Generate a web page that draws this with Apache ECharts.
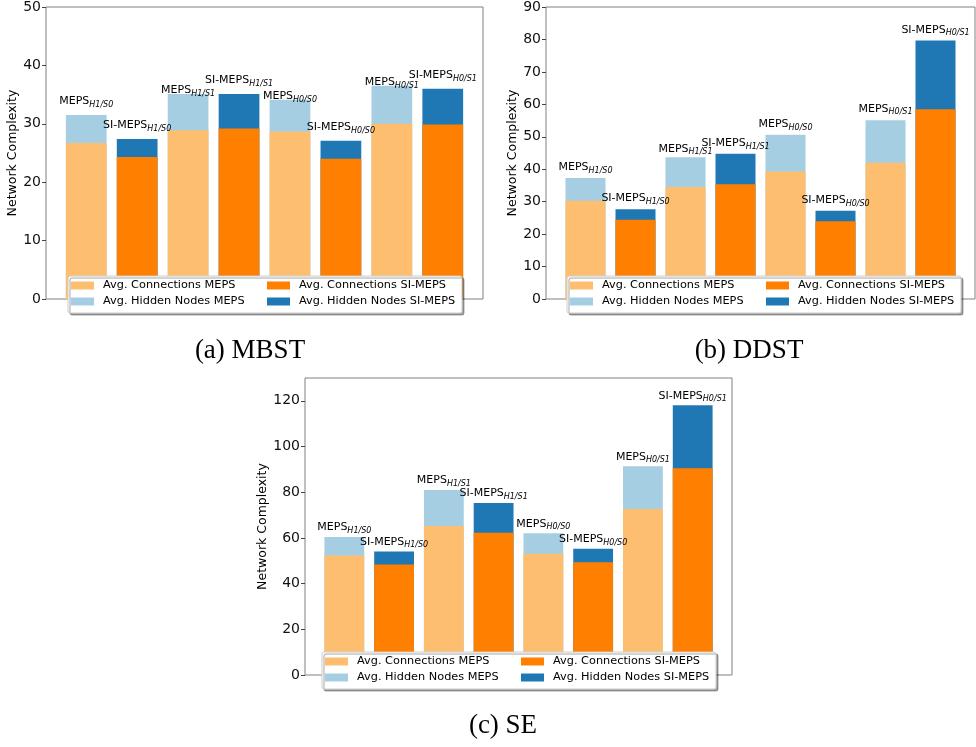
<!DOCTYPE html>
<html><head><meta charset="utf-8">
<script src="https://cdn.jsdelivr.net/npm/echarts@6/dist/echarts.min.js"></script>
<style>html,body{margin:0;padding:0;background:#fff}#c{width:976px;height:747px}</style>
</head><body><div id="c"></div>
<script>
// ---------- data ----------
const configLabels = ['H1/S0', 'H1/S1', 'H0/S0', 'H0/S1'];
const methodNames = ['MEPS', 'SI-MEPS'];
const legendNames = ['Avg. Connections MEPS', 'Avg. Connections SI-MEPS', 'Avg. Hidden Nodes MEPS', 'Avg. Hidden Nodes SI-MEPS'];
const captions = ['(a) MBST', '(b) DDST', '(c) SE'];
const yAxisTitle = 'Network Complexity';

const yTickStepMBST = 10, yMaxMBST = 50;
const yTickStepDDST = 10, yMaxDDST = 90;
const yTickStepSE = 20, yMaxSE = 130;

const mbstConnMEPS = [26.7, 28.9, 28.7, 30.0];
const mbstHidMEPS  = [4.8, 6.2, 5.4, 6.5];
const mbstConnSI   = [24.3, 29.2, 24.0, 29.9];
const mbstHidSI    = [3.1, 5.9, 3.1, 6.1];

const ddstConnMEPS = [30.3, 34.5, 39.3, 42.0];
const ddstHidMEPS  = [7.0, 9.2, 11.3, 13.1];
const ddstConnSI   = [24.4, 35.4, 24.0, 58.5];
const ddstHidSI    = [3.3, 9.4, 3.2, 21.2];

const seConnMEPS = [52.3, 65.2, 53.1, 72.7];
const seHidMEPS  = [8.1, 15.8, 8.9, 18.7];
const seConnSI   = [48.4, 62.3, 49.4, 90.5];
const seHidSI    = [5.7, 13.0, 5.9, 27.6];

// ---------- styling / layout ----------
const colors = { connMEPS: '#fdbf6f', connSI: '#ff7f00', hidMEPS: '#a6cee3', hidSI: '#1f78b4' };
const panels = [
  { step: yTickStepMBST, yMax: yMaxMBST, conn: [mbstConnMEPS, mbstConnSI], hid: [mbstHidMEPS, mbstHidSI],
    grid: { left: 46, top: 7, width: 437, height: 292 }, nameGap: 25,
    labelDist: [[6, -4, -4, -4], [6, 6, 6, 6]],
    legend: { left: 68, top: 276 }, caption: { x: 250, y: 337 } },
  { step: yTickStepDDST, yMax: yMaxDDST, conn: [ddstConnMEPS, ddstConnSI], hid: [ddstHidMEPS, ddstHidSI],
    grid: { left: 546, top: 7, width: 429, height: 292 }, nameGap: 25,
    labelDist: [[3, 1, 3, 4], [3, 3, 3, 3]],
    legend: { left: 567, top: 276 }, caption: { x: 749, y: 337 } },
  { step: yTickStepSE, yMax: yMaxSE, conn: [seConnMEPS, seConnSI], hid: [seHidMEPS, seHidSI],
    grid: { left: 305, top: 378, width: 427, height: 297 }, nameGap: 33,
    labelDist: [[2, 2, 2, 2], [2, 2, 2, 2]],
    legend: { left: 322, top: 652 }, caption: { x: 503, y: 712 } }
];
const X_MIN = -0.79, X_MAX = 7.79;
const FONT = 'DejaVu Sans';
const spine = '#808080';

const option = {
  backgroundColor: '#fff',
  animation: false,
  grid: [], xAxis: [], yAxis: [], series: [], legend: [], title: []
};

panels.forEach((p, gi) => {
  option.grid.push(Object.assign({ show: true, borderColor: spine, borderWidth: 1, backgroundColor: 'transparent', containLabel: false }, p.grid));
  option.xAxis.push({ type: 'value', gridIndex: gi, min: X_MIN, max: X_MAX, show: false, splitLine: { show: false }, axisLine: { onZero: false } });
  option.yAxis.push({
    type: 'value', gridIndex: gi, min: 0, max: p.yMax, interval: p.step, position: 'left',
    name: yAxisTitle, nameLocation: 'middle', nameGap: p.nameGap, nameRotate: 90,
    nameTextStyle: { fontFamily: FONT, fontSize: 12.5, color: '#000' },
    axisLine: { show: false, onZero: false },
    axisTick: { show: true, length: 4, lineStyle: { color: '#444' } },
    axisLabel: { fontFamily: FONT, fontSize: 14, color: '#111', margin: 5, showMaxLabel: p.yMax % p.step === 0 },
    splitLine: { show: false }
  });
  const barW = 0.8 * p.grid.width / (X_MAX - X_MIN);
  const labelSeries = [];
  [0, 1].forEach(m => {
    const conn = p.conn[m], hid = p.hid[m];
    const method = methodNames[m];
    const totals = conn.map((c, i) => [2 * i + m, +(c + hid[i]).toFixed(2)]);
    option.series.push({
      type: 'bar', name: m === 0 ? legendNames[2] : legendNames[3], xAxisIndex: gi, yAxisIndex: gi,
      barWidth: barW, barGap: '-100%',
      itemStyle: { color: m === 0 ? colors.hidMEPS : colors.hidSI },
      data: totals, z: 2
    });
    option.series.push({
      type: 'bar', name: m === 0 ? legendNames[0] : legendNames[1], xAxisIndex: gi, yAxisIndex: gi,
      barWidth: barW, barGap: '-100%',
      itemStyle: { color: m === 0 ? colors.connMEPS : colors.connSI },
      data: conn.map((c, i) => [2 * i + m, c]),
      z: 3
    });
    labelSeries.push({
      type: 'bar', name: 'labels-' + method + '-' + gi, xAxisIndex: gi, yAxisIndex: gi,
      barWidth: barW, barGap: '-100%', silent: true,
      itemStyle: { color: 'rgba(0,0,0,0)' },
      data: totals.map((t, i) => ({ value: t, label: { distance: p.labelDist[m][i] } })),
      label: {
        show: true, position: 'top',
        formatter: (q) => '{m|' + method + '}{s|' + configLabels[q.dataIndex] + '}',
        rich: {
          m: { fontFamily: FONT, fontSize: 11, color: '#000', lineHeight: 13, verticalAlign: 'top' },
          s: { fontFamily: FONT, fontSize: 8, fontStyle: 'italic', color: '#000', lineHeight: 7, verticalAlign: 'bottom' }
        }
      },
      z: 10
    });
  });
  option.series.push(...labelSeries);
  option.legend.push({
    left: p.legend.left, top: p.legend.top, orient: 'horizontal', width: 400,
    data: legendNames, selectedMode: false,
    icon: 'rect', itemWidth: 23, itemHeight: 8, itemGap: 3,
    padding: [3, 2, 5, 3],
    backgroundColor: '#fff', borderColor: '#cccccc', borderWidth: 1, borderRadius: 2,
    shadowColor: 'rgba(0,0,0,0.35)', shadowBlur: 0, shadowOffsetX: 2, shadowOffsetY: 2,
    textStyle: { fontFamily: FONT, fontSize: 11.3, color: '#000', width: 161, lineHeight: 13, padding: [0, 0, 0, 4], overflow: 'none' },
    z: 20
  });
  option.title.push({
    text: captions[gi], left: p.caption.x, top: p.caption.y, textAlign: 'center', padding: 0,
    textStyle: { fontFamily: 'Liberation Serif', fontSize: 27, fontWeight: 'normal', color: '#000' }
  });
});

const chart = echarts.init(document.getElementById('c'), null, { renderer: 'canvas' });
chart.setOption(option);
</script>
</body></html>
